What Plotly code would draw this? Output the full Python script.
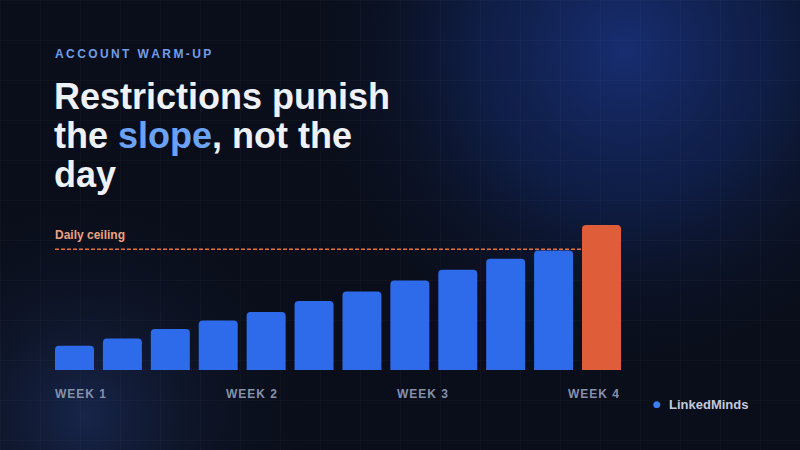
import base64
import plotly.graph_objects as go

# ---- data ----
days = list(range(12))
volumes = [20, 26, 34, 41, 48, 57, 65, 74, 83, 92, 99, 120]
ceiling = 100
week_labels = ["WEEK 1", "WEEK 2", "WEEK 3", "WEEK 4"]
bar_colors = ["#2d6bea"] * 11 + ["#df5d38"]

W, H = 800, 450
THIN = "\u2009"
HAIR = "\u200a"

def spaced(s, sep=THIN):
    return sep.join(list(s))

# ---- background svg (glows + faint grid) ----
svg = f"""<svg xmlns='http://www.w3.org/2000/svg' width='{W}' height='{H}' viewBox='0 0 {W} {H}'>
<defs>
<radialGradient id='g1' cx='625' cy='50' r='340' gradientUnits='userSpaceOnUse'>
<stop offset='0' stop-color='#172d70' stop-opacity='1'/>
<stop offset='0.45' stop-color='#10214f' stop-opacity='0.78'/>
<stop offset='1' stop-color='#0a0e1a' stop-opacity='0'/>
</radialGradient>
<radialGradient id='g2' cx='85' cy='415' r='240' gradientUnits='userSpaceOnUse'>
<stop offset='0' stop-color='#17254a' stop-opacity='1'/>
<stop offset='1' stop-color='#0a0e1a' stop-opacity='0'/>
</radialGradient>
<pattern id='grid' width='40' height='40' patternUnits='userSpaceOnUse'>
<path d='M40 0 L0 0 0 40' fill='none' stroke='#ffffff' stroke-opacity='0.035' stroke-width='1'/>
</pattern>
</defs>
<rect width='{W}' height='{H}' fill='#0a0e1a'/>
<rect width='{W}' height='{H}' fill='url(#g1)'/>
<rect width='{W}' height='{H}' fill='url(#g2)'/>
<rect width='{W}' height='{H}' fill='url(#grid)'/>
</svg>"""
bg_uri = "data:image/svg+xml;base64," + base64.b64encode(svg.encode()).decode()

FONT = "'Liberation Sans', Arial, Helvetica, sans-serif"

def px(xp):
    return xp / W

def py(yp):
    return 1 - yp / H

fig = go.Figure()
fig.add_trace(go.Bar(
    x=days, y=volumes, marker=dict(color=bar_colors, line=dict(width=0)),
    name="LinkedMinds", showlegend=False, hoverinfo="skip",
))

bar_left, bar_right, bar_bottom, bar_top = 55, 621, 370, 225
ymax = max(volumes)
fig.update_layout(
    width=W, height=H,
    margin=dict(l=0, r=0, t=0, b=0),
    paper_bgcolor="#0a0e1a",
    plot_bgcolor="rgba(0,0,0,0)",
    bargap=0.186,
    barcornerradius=4,
    xaxis=dict(domain=[px(bar_left), px(bar_right)], range=[-0.407, 11.407],
               visible=False, fixedrange=True),
    yaxis=dict(domain=[py(bar_bottom), py(bar_top)], range=[0, ymax],
               visible=False, fixedrange=True),
    showlegend=False,
    images=[dict(source=bg_uri, xref="paper", yref="paper", x=0, y=1,
                 sizex=1, sizey=1, xanchor="left", yanchor="top",
                 sizing="stretch", layer="below")],
    shapes=[dict(type="line", xref="x", yref="y", x0=-0.407, x1=10.6,
                 y0=ceiling, y1=ceiling, layer="below",
                 line=dict(color="#e8703f", width=1.5, dash="4px,2px"))],
)

ann = []
ann.append(dict(text=spaced("ACCOUNT WARM-UP"), x=px(53), y=py(54), xanchor="left", yanchor="middle",
                font=dict(family=FONT, size=12, color="#6f9de8", weight=700)))
lines = ["Restrictions punish",
         "the <span style='color:#6aa2f6'>slope</span>, not the",
         "day"]
for i, t in enumerate(lines):
    ann.append(dict(text=f"<b>{t}</b>", x=px(52), y=py(97 + 39 * i), xanchor="left", yanchor="middle",
                    font=dict(family=FONT, size=36, color="#eef1f7")))
ann.append(dict(text="<b>Daily ceiling</b>", x=px(53), y=py(235), xanchor="left", yanchor="middle",
                font=dict(family=FONT, size=12, color="#eea282")))
for i, t in enumerate(week_labels):
    ann.append(dict(text=f"<b>{spaced(t, HAIR)}</b>", x=px(53 + 171 * i), y=py(394), xanchor="left", yanchor="middle",
                    font=dict(family=FONT, size=12, color="#8590aa")))
ann.append(dict(text="●", x=px(657), y=py(404), xanchor="center", yanchor="middle",
                font=dict(family="DejaVu Sans", size=9, color="#3b7ff5")))
ann.append(dict(text="<b>LinkedMinds</b>", x=px(667), y=py(404), xanchor="left", yanchor="middle",
                font=dict(family=FONT, size=13, color="#c3cadb")))
for a in ann:
    a.update(xref="paper", yref="paper", showarrow=False)
fig.update_layout(annotations=ann)

fig.write_html("out.html", config={"displayModeBar": False},
               post_script="document.body.style.margin='0';document.body.style.background='#0a0e1a';")
